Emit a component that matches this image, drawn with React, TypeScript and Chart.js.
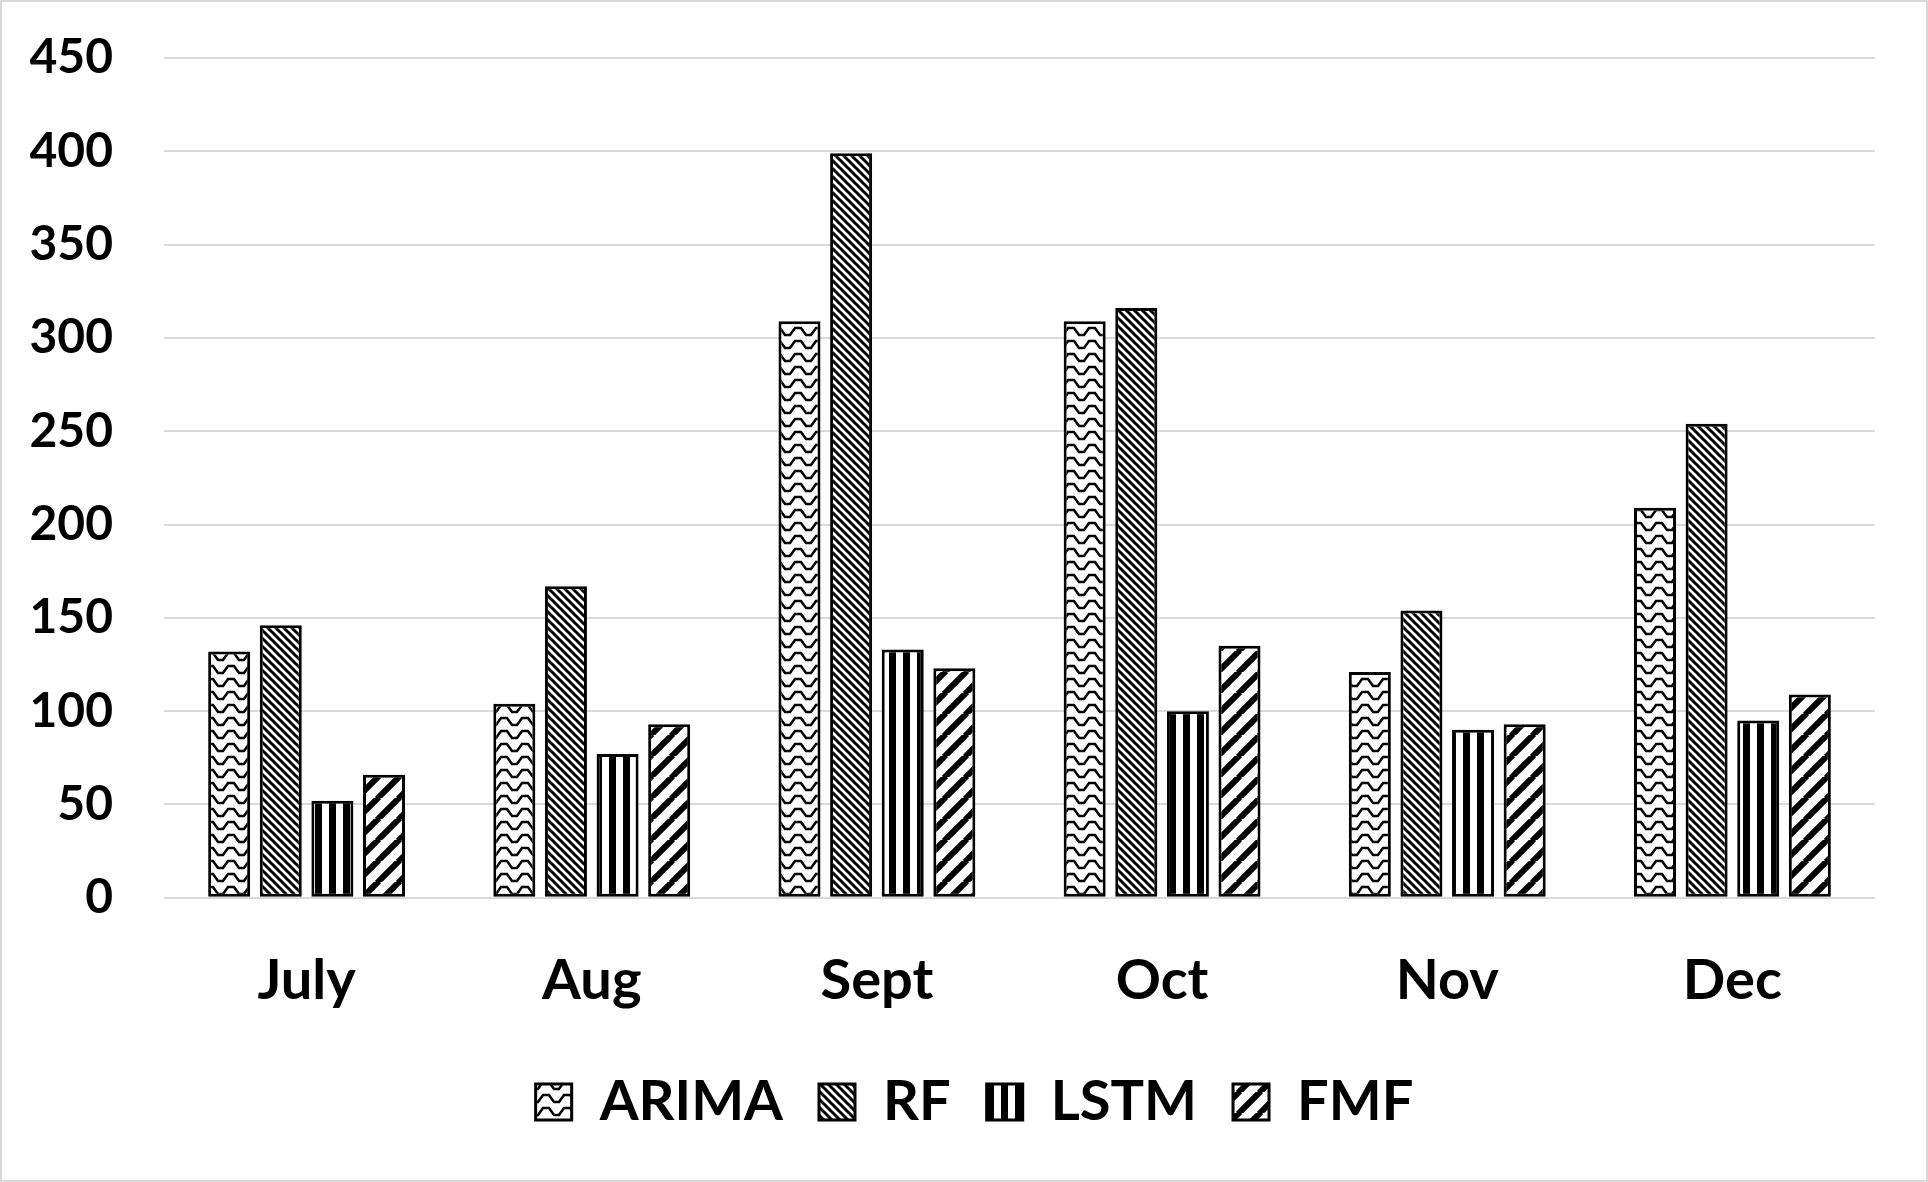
import React, { useEffect, useRef } from "react";
import { Chart, registerables } from "chart.js";

Chart.register(...registerables);

const categories = ["July", "Aug", "Sept", "Oct", "Nov", "Dec"];
const arimaValues = [132, 104, 309, 309, 121, 209];
const rfValues = [146, 167, 399, 316, 154, 254];
const lstmValues = [52, 77, 133, 100, 90, 95];
const fmfValues = [66, 93, 123, 135, 93, 109];
const seriesNames = ["ARIMA", "RF", "LSTM", "FMF"];
const yTicks = [0, 50, 100, 150, 200, 250, 300, 350, 400, 450];

const FONT = "Lato, 'Open Sans', sans-serif";

function makeTile(w: number, h: number, draw: (c: CanvasRenderingContext2D) => void) {
  const cv = document.createElement("canvas");
  cv.width = w;
  cv.height = h;
  const c = cv.getContext("2d")!;
  c.fillStyle = "#ffffff";
  c.fillRect(0, 0, w, h);
  c.strokeStyle = "#000000";
  c.fillStyle = "#000000";
  draw(c);
  const ctx = document.createElement("canvas").getContext("2d")!;
  return ctx.createPattern(cv, "repeat")!;
}

function wavePattern() {
  return makeTile(21, 13, (c) => {
    c.lineWidth = 2.5;
    c.beginPath();
    c.moveTo(-1, 3);
    c.lineTo(3, 3);
    c.lineTo(8, 10);
    c.lineTo(13, 10);
    c.lineTo(18, 3);
    c.lineTo(22, 3);
    c.stroke();
  });
}

function downDiagPattern() {
  const s = 8;
  return makeTile(s, s, (c) => {
    c.lineWidth = 3;
    c.beginPath();
    for (const k of [-s, 0, s]) {
      c.moveTo(k - 1, -1);
      c.lineTo(k + s + 1, s + 1);
    }
    c.stroke();
  });
}

function verticalPattern() {
  return makeTile(14, 4, (c) => {
    c.fillRect(7, 0, 7, 4);
  });
}

function upDiagPattern() {
  const s = 21;
  return makeTile(s, s, (c) => {
    c.lineWidth = 6;
    c.beginPath();
    for (const k of [-s, 0, s]) {
      c.moveTo(k - 1, s + 1);
      c.lineTo(k + s + 1, -1);
    }
    c.stroke();
  });
}

const legendShift = {
  id: "legendShift",
  afterLayout(chart: any) {
    const lg = chart.legend;
    if (lg) {
      lg.left += 22;
      lg.right += 22;
    }
  },
};

export default function App() {
  const ref = useRef<HTMLCanvasElement | null>(null);

  useEffect(() => {
    const canvas = ref.current;
    if (!canvas) return;
    const patterns = [wavePattern(), downDiagPattern(), verticalPattern(), upDiagPattern()];
    const values = [arimaValues, rfValues, lstmValues, fmfValues];

    const chart = new Chart(canvas, {
      type: "bar",
      data: {
        labels: categories,
        datasets: seriesNames.map((name, i) => ({
          label: name,
          data: values[i],
          backgroundColor: patterns[i],
          borderColor: "#000000",
          borderWidth: 3,
          borderSkipped: false,
          categoryPercentage: 0.724,
          barPercentage: 0.814,
        })),
      },
      plugins: [legendShift],
      options: {
        responsive: false,
        animation: false,
        devicePixelRatio: 1,
        layout: { padding: { top: 58, right: 53, left: 30, bottom: 42 } },
        plugins: {
          tooltip: { enabled: false },
          legend: {
            position: "bottom",
            labels: {
              color: "#000000",
              font: { family: FONT, size: 56, weight: "bold" },
              boxWidth: 36,
              boxHeight: 36,
              padding: 36,
            },
          },
        },
        scales: {
          x: {
            grid: { display: false },
            border: { display: false },
            ticks: {
              color: "#000000",
              font: { family: FONT, size: 56, weight: "bold" },
              padding: 42,
              maxRotation: 0,
            },
            afterFit: (scale: any) => {
              scale.height -= 19;
            },
          },
          y: {
            min: 0,
            max: 450,
            afterBuildTicks: (scale: any) => {
              scale.ticks = yTicks.map((v) => ({ value: v }));
            },
            afterFit: (scale: any) => {
              scale.width = 134;
              scale.paddingTop = 0;
              scale.paddingBottom = 0;
            },
            grid: { color: "#d9d9d9", lineWidth: 2, drawTicks: false },
            border: { display: false },
            ticks: {
              color: "#000000",
              font: { family: FONT, size: 48, weight: "bold" },
              padding: 51,
            },
          },
        },
      },
    });
    return () => chart.destroy();
  }, []);

  return (
    <div style={{ position: "fixed", left: 0, top: 0, width: 1928, height: 1182, background: "#ffffff" }}>
      <canvas ref={ref} width={1928} height={1182} style={{ position: "absolute", left: 0, top: 0 }} />
      <div
        style={{
          position: "absolute",
          left: 0,
          top: 0,
          width: 1928,
          height: 1182,
          boxSizing: "border-box",
          border: "2px solid #d9d9d9",
          pointerEvents: "none",
        }}
      />
    </div>
  );
}
